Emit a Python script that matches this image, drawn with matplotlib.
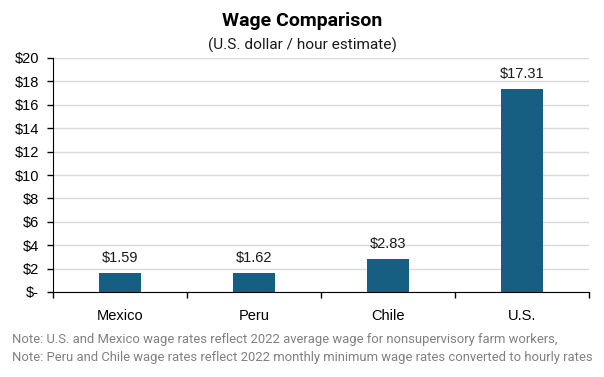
import matplotlib
matplotlib.use("Agg")
import matplotlib.pyplot as plt
from matplotlib.ticker import FixedLocator

categories = ["Mexico", "Peru", "Chile", "U.S."]
wages = [1.59, 1.62, 2.83, 17.31]
yticks = [0, 2, 4, 6, 8, 10, 12, 14, 16, 18, 20]
ytick_labels = ["$-", "$2", "$4", "$6", "$8", "$10", "$12", "$14", "$16", "$18", "$20"]
title = "Wage Comparison"
subtitle = "(U.S. dollar / hour estimate)"
notes = ["Note: U.S. and Mexico wage rates reflect 2022 average wage for nonsupervisory farm workers,",
         "Note: Peru and Chile wage rates reflect 2022 monthly minimum wage rates converted to hourly rates"]

plt.rcParams['font.family'] = ['Liberation Sans', 'DejaVu Sans']

fig = plt.figure(figsize=(6.04, 3.77), dpi=100)
ax = fig.add_axes([53/604, 1-292/377, (589-53)/604, (292-58)/377])

x = list(range(len(categories)))
ax.bar(x, wages, width=0.31, color="#175f82", zorder=3)
for xi, v in zip(x, wages):
    ax.text(xi, v + 0.7, f"${v:.2f}", ha="center", va="bottom", fontsize=10.5, color="#1a1a1a")

ax.set_xlim(-0.5, len(categories) - 0.5)
ax.set_ylim(0, 20)
ax.set_yticks(yticks)
ax.set_yticklabels(ytick_labels, fontsize=10.5)
ax.set_xticks(x)
ax.set_xticklabels(categories, fontsize=10.5)
ax.tick_params(axis='x', which='major', length=0, pad=12)
ax.xaxis.set_minor_locator(FixedLocator([i + 0.5 for i in range(-1, len(categories))]))
ax.tick_params(axis='x', which='minor', length=4, direction='out', width=1)
ax.tick_params(axis='y', length=4, direction='out', width=1, pad=6)
ax.grid(axis='y', color="#d9d9d9", linewidth=1, zorder=0)
ax.set_axisbelow(True)
for s in ["top", "right"]:
    ax.spines[s].set_visible(False)
ax.spines["left"].set_color("black")
ax.spines["bottom"].set_color("black")

fig.text(0.5, 1-21/377, title, ha="center", va="center", fontsize=14, fontweight="bold",
         family=["Roboto", "DejaVu Sans"])
fig.text(0.5, 1-45/377, subtitle, ha="center", va="center", fontsize=11.1,
         family=["Roboto", "DejaVu Sans"], color="#1a1a1a")
fig.text(12/604, 1-340/377, notes[0], ha="left", va="center", fontsize=9.4, color="#808080",
         family=["Roboto", "DejaVu Sans"])
fig.text(12/604, 1-358/377, notes[1], ha="left", va="center", fontsize=9.4, color="#808080",
         family=["Roboto", "DejaVu Sans"])

fig.savefig("out.png", dpi=100)
